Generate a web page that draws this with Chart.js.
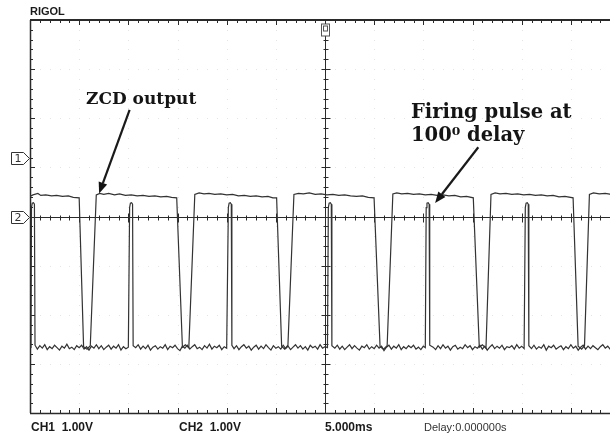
<!DOCTYPE html>
<html>
<head>
<meta charset="utf-8">
<script src="https://cdn.jsdelivr.net/npm/chart.js@4"></script>
<style>
  html, body { margin: 0; padding: 0; background: #fff; overflow: hidden; }
  #wrap { width: 640px; height: 438px; }
</style>
</head>
<body>
<div id="wrap"><canvas id="scope" width="640" height="438"></canvas></div>
<script>
// time in ms (5 ms/div, trigger at centre), level in screen volts (1 V/div)
const timeRange = [-30, 30]
const voltRange = [-4, 4]

// CH1 - zero crossing detector output
const ch1Trace = [
  [-30.0, 0.41], [-29.7, 0.44], [-29.2, 0.47], [-28.9, 0.43], [-28.4, 0.44], [-27.8, 0.42], [-27.3, 0.43],
  [-26.7, 0.41], [-26.1, 0.42], [-25.6, 0.39], [-25.0, 0.38],
  [-24.55, -2.65], [-24.2, -2.70], [-23.87, -2.63],
  [-23.26, 0.44], [-22.9, 0.47], [-22.5, 0.45], [-22.0, 0.47], [-21.4, 0.44], [-20.9, 0.46], [-20.3, 0.43],
  [-19.7, 0.44], [-19.1, 0.42], [-18.5, 0.43], [-17.9, 0.41], [-17.3, 0.42], [-16.7, 0.40], [-16.1, 0.41],
  [-15.6, 0.39], [-15.08, 0.38],
  [-14.5, -2.66], [-14.2, -2.61], [-13.85, -2.67],
  [-13.24, 0.45], [-12.8, 0.48], [-12.3, 0.46], [-11.8, 0.47], [-11.2, 0.45], [-10.6, 0.46], [-10.0, 0.44],
  [-9.4, 0.45], [-8.8, 0.42], [-8.2, 0.43], [-7.6, 0.41], [-7.0, 0.42], [-6.4, 0.40], [-5.8, 0.41],
  [-5.3, 0.38], [-4.92, 0.38],
  [-4.41, -2.64], [-4.1, -2.70], [-3.77, -2.62],
  [-3.16, 0.45], [-2.7, 0.47], [-2.2, 0.46], [-1.6, 0.48], [-1.0, 0.45], [-0.4, 0.46], [0.2, 0.44],
  [0.8, 0.45], [1.4, 0.43], [2.0, 0.44], [2.6, 0.42], [3.2, 0.41], [3.8, 0.42], [4.4, 0.39], [4.99, 0.38],
  [5.6, -2.65], [5.95, -2.70], [6.32, -2.63],
  [6.9, 0.46], [7.3, 0.48], [7.8, 0.46], [8.4, 0.47], [9.0, 0.45], [9.6, 0.46], [10.2, 0.44],
  [10.8, 0.45], [11.4, 0.43], [12.0, 0.44], [12.6, 0.42], [13.2, 0.43], [13.8, 0.40], [14.4, 0.41], [15.08, 0.38],
  [15.69, -2.66], [16.0, -2.61], [16.37, -2.68],
  [16.88, 0.45], [17.3, 0.48], [17.8, 0.46], [18.4, 0.47], [19.0, 0.45], [19.6, 0.46], [20.2, 0.44],
  [20.8, 0.45], [21.4, 0.43], [22.0, 0.44], [22.6, 0.42], [23.2, 0.43], [23.8, 0.40], [24.4, 0.41], [25.23, 0.38],
  [25.74, -2.64], [26.1, -2.70], [26.39, -2.63],
  [26.89, 0.45], [27.3, 0.48], [27.9, 0.46], [28.5, 0.47], [29.1, 0.45], [29.6, 0.46], [30.0, 0.44],
]

// CH2 - firing pulses at 100 deg delay
const ch2Trace = [
  [-30.0, -2.65], [-29.9, -2.66],
  [-29.85, 0.18], [-29.77, 0.27], [-29.65, 0.28], [-29.55, 0.25], [-29.49, -2.62],
  [-29.25, -2.70], [-29.0, -2.63], [-28.75, -2.68], [-28.5, -2.61], [-28.25, -2.71], [-28.0, -2.65], [-27.75, -2.69],
  [-27.5, -2.62], [-27.25, -2.67], [-27.0, -2.72], [-26.75, -2.64], [-26.5, -2.68], [-26.25, -2.60], [-26.0, -2.69],
  [-25.75, -2.66], [-25.5, -2.71], [-25.25, -2.63], [-25.0, -2.67], [-24.75, -2.62], [-24.5, -2.70], [-24.25, -2.65],
  [-24.0, -2.72], [-23.75, -2.64], [-23.5, -2.68], [-23.25, -2.61], [-23.0, -2.69], [-22.75, -2.63], [-22.5, -2.71],
  [-22.25, -2.66], [-22.0, -2.62], [-21.75, -2.70], [-21.5, -2.64], [-21.25, -2.68], [-21.0, -2.61], [-20.75, -2.72],
  [-20.5, -2.65], [-20.25, -2.69], [-20.0, -2.66],
  [-19.87, 0.18], [-19.79, 0.27], [-19.67, 0.28], [-19.57, 0.25], [-19.51, -2.63],
  [-19.25, -2.67], [-19.0, -2.61], [-18.75, -2.70], [-18.5, -2.64], [-18.25, -2.69], [-18.0, -2.62], [-17.75, -2.72],
  [-17.5, -2.66], [-17.25, -2.63], [-17.0, -2.70], [-16.75, -2.65], [-16.5, -2.68], [-16.25, -2.61], [-16.0, -2.71],
  [-15.75, -2.64], [-15.5, -2.67], [-15.25, -2.62], [-15.0, -2.69], [-14.75, -2.73], [-14.5, -2.64], [-14.25, -2.68],
  [-14.0, -2.62], [-13.75, -2.70], [-13.5, -2.65], [-13.25, -2.61], [-13.0, -2.69], [-12.75, -2.66], [-12.5, -2.71],
  [-12.25, -2.63], [-12.0, -2.68], [-11.75, -2.60], [-11.5, -2.70], [-11.25, -2.64], [-11.0, -2.67], [-10.75, -2.62],
  [-10.5, -2.71], [-10.25, -2.65], [-10.0, -2.68],
  [-9.83, 0.18], [-9.75, 0.27], [-9.63, 0.28], [-9.53, 0.25], [-9.47, -2.62],
  [-9.25, -2.69], [-9.0, -2.63], [-8.75, -2.71], [-8.5, -2.65], [-8.25, -2.61], [-8.0, -2.68], [-7.75, -2.64],
  [-7.5, -2.72], [-7.25, -2.66], [-7.0, -2.62], [-6.75, -2.70], [-6.5, -2.64], [-6.25, -2.69], [-6.0, -2.61],
  [-5.75, -2.67], [-5.5, -2.72], [-5.25, -2.63], [-5.0, -2.68], [-4.75, -2.65], [-4.5, -2.70], [-4.25, -2.62],
  [-4.0, -2.69], [-3.75, -2.64], [-3.5, -2.71], [-3.25, -2.66], [-3.0, -2.61], [-2.75, -2.68], [-2.5, -2.63],
  [-2.25, -2.70], [-2.0, -2.65], [-1.75, -2.72], [-1.5, -2.62], [-1.25, -2.67], [-1.0, -2.64], [-0.75, -2.70],
  [-0.5, -2.61], [-0.25, -2.68], [0.0, -2.65], [0.25, -2.67],
  [0.34, 0.18], [0.42, 0.27], [0.54, 0.28], [0.64, 0.25], [0.70, -2.63],
  [1.0, -2.68], [1.25, -2.62], [1.5, -2.70], [1.75, -2.64], [2.0, -2.71], [2.25, -2.66], [2.5, -2.61],
  [2.75, -2.69], [3.0, -2.63], [3.25, -2.68], [3.5, -2.72], [3.75, -2.64], [4.0, -2.67], [4.25, -2.61],
  [4.5, -2.70], [4.75, -2.65], [5.0, -2.69], [5.25, -2.62], [5.5, -2.68], [5.75, -2.64], [6.0, -2.73],
  [6.25, -2.66], [6.5, -2.62], [6.75, -2.70], [7.0, -2.64], [7.25, -2.68], [7.5, -2.61], [7.75, -2.71],
  [8.0, -2.65], [8.25, -2.69], [8.5, -2.63], [8.75, -2.67], [9.0, -2.62], [9.25, -2.70], [9.5, -2.66],
  [9.75, -2.71], [10.0, -2.64], [10.2, -2.67],
  [10.29, 0.18], [10.37, 0.27], [10.49, 0.28], [10.59, 0.25], [10.65, -2.62],
  [11.0, -2.66], [11.25, -2.71], [11.5, -2.63], [11.75, -2.69], [12.0, -2.61], [12.25, -2.68], [12.5, -2.64],
  [12.75, -2.72], [13.0, -2.65], [13.25, -2.62], [13.5, -2.70], [13.75, -2.66], [14.0, -2.69], [14.25, -2.61],
  [14.5, -2.67], [14.75, -2.63], [15.0, -2.71], [15.25, -2.65], [15.5, -2.68], [15.75, -2.62], [16.0, -2.70],
  [16.25, -2.64], [16.5, -2.72], [16.75, -2.66], [17.0, -2.61], [17.25, -2.69], [17.5, -2.64], [17.75, -2.68],
  [18.0, -2.62], [18.25, -2.71], [18.5, -2.65], [18.75, -2.67], [19.0, -2.63], [19.25, -2.70], [19.5, -2.61],
  [19.75, -2.68], [20.0, -2.64], [20.25, -2.69],
  [20.37, 0.18], [20.45, 0.27], [20.57, 0.28], [20.67, 0.25], [20.73, -2.63],
  [21.0, -2.69], [21.25, -2.62], [21.5, -2.70], [21.75, -2.65], [22.0, -2.68], [22.25, -2.61], [22.5, -2.72],
  [22.75, -2.64], [23.0, -2.67], [23.25, -2.62], [23.5, -2.70], [23.75, -2.66], [24.0, -2.63], [24.25, -2.71],
  [24.5, -2.65], [24.75, -2.69], [25.0, -2.61], [25.25, -2.68], [25.5, -2.64], [25.75, -2.72], [26.0, -2.66],
  [26.25, -2.62], [26.5, -2.70], [26.75, -2.64], [27.0, -2.69], [27.25, -2.63], [27.5, -2.67], [27.75, -2.71],
  [28.0, -2.65], [28.25, -2.61], [28.5, -2.68], [28.75, -2.64], [29.0, -2.70], [29.25, -2.62], [29.5, -2.69],
  [29.75, -2.65], [30.0, -2.67],
]

// channel ground markers on the left edge
const channelNames = ["1", "2"]
const channelOffsets = [1.19, 0]

// status line under the screen
const statusLabels = ["CH1  1.00V", "CH2  1.00V", "5.000ms", "Delay:0.000000s"]

const toPoints = (trace) => trace.map(([t, v]) => ({ x: t, y: v }))

// draws the scope frame, centre cross and tick marks
const scopeFrame = {
  id: "scopeFrame",
  beforeDatasetsDraw(chart) {
    const { ctx, chartArea: a, scales: { x, y } } = chart
    const xc = Math.round(x.getPixelForValue(0)) + 0.5
    const yc = Math.round(y.getPixelForValue(0)) + 0.5
    ctx.save()

    // faint dotted grid
    ctx.fillStyle = "#e4e4e4"
    for (let d = -5; d <= 5; d++) {
      if (d === 0) continue
      const px = Math.round(x.getPixelForValue(d * 5))
      for (let v = -4; v <= 4; v += 0.2) ctx.fillRect(px, Math.round(y.getPixelForValue(v)), 1, 1)
    }
    for (let d = -3; d <= 3; d++) {
      if (d === 0) continue
      const py = Math.round(y.getPixelForValue(d))
      for (let t = -30; t <= 30; t += 1) ctx.fillRect(Math.round(x.getPixelForValue(t)), py, 1, 1)
    }

    ctx.strokeStyle = "#2a2a2a"
    ctx.lineWidth = 1
    ctx.beginPath()
    // centre cross
    ctx.moveTo(xc, a.top); ctx.lineTo(xc, a.bottom)
    ctx.moveTo(a.left, yc); ctx.lineTo(a.right, yc)
    // ticks along x: every 1 ms (1/5 div)
    for (let i = 0; i <= 60; i++) {
      const px = Math.round(x.getPixelForValue(timeRange[0] + i)) + 0.5
      const len = i % 5 === 0 ? 5 : 3
      ctx.moveTo(px, a.top); ctx.lineTo(px, a.top + len)
      ctx.moveTo(px, a.bottom); ctx.lineTo(px, a.bottom - len)
      ctx.moveTo(px, yc - len + 1); ctx.lineTo(px, yc + len)
    }
    // ticks along y: every 0.2 V
    for (let j = 0; j <= 40; j++) {
      const py = Math.round(y.getPixelForValue(voltRange[0] + j * 0.2)) + 0.5
      const len = j % 5 === 0 ? 5 : 3
      ctx.moveTo(a.left, py); ctx.lineTo(a.left + len, py)
      ctx.moveTo(xc - len + 1, py); ctx.lineTo(xc + len, py)
    }
    ctx.stroke()

    // border
    ctx.lineWidth = 1.5
    ctx.beginPath()
    ctx.moveTo(a.left + 0.5, a.bottom); ctx.lineTo(a.left + 0.5, a.top)
    ctx.moveTo(a.left, a.bottom + 0.5); ctx.lineTo(a.right, a.bottom + 0.5)
    ctx.stroke()
    ctx.lineWidth = 2
    ctx.beginPath()
    ctx.moveTo(a.left, a.top); ctx.lineTo(a.right, a.top)
    ctx.stroke()

    // trigger position marker
    ctx.lineWidth = 1
    ctx.strokeStyle = "#555"
    ctx.fillStyle = "#fff"
    ctx.fillRect(xc - 4, a.top + 4, 8, 12)
    ctx.strokeRect(xc - 4, a.top + 4, 8, 12)
    ctx.strokeRect(xc - 2, a.top + 6, 4, 5)

    // channel ground markers
    ctx.font = "11px 'DejaVu Sans'"
    ctx.textAlign = "center"
    ctx.textBaseline = "middle"
    channelNames.forEach((name, i) => {
      const py = Math.round(y.getPixelForValue(channelOffsets[i])) + 0.5
      ctx.strokeStyle = "#333"
      ctx.beginPath()
      ctx.moveTo(11.5, py - 6); ctx.lineTo(23.5, py - 6); ctx.lineTo(29.5, py)
      ctx.lineTo(23.5, py + 6); ctx.lineTo(11.5, py + 6); ctx.closePath()
      ctx.stroke()
      ctx.fillStyle = "#333"
      ctx.fillText(name, 18, py + 0.5)
    })
    ctx.restore()
  },
}

function drawArrow(ctx, x1, y1, x2, y2, width) {
  const ang = Math.atan2(y2 - y1, x2 - x1)
  const head = 11
  const half = 4.5
  const bx = x2 - head * Math.cos(ang)
  const by = y2 - head * Math.sin(ang)
  ctx.lineWidth = width
  ctx.beginPath()
  ctx.moveTo(x1, y1); ctx.lineTo(bx, by)
  ctx.stroke()
  ctx.beginPath()
  ctx.moveTo(x2, y2)
  ctx.lineTo(bx + half * Math.sin(ang), by - half * Math.cos(ang))
  ctx.lineTo(bx - half * Math.sin(ang), by + half * Math.cos(ang))
  ctx.closePath()
  ctx.fill()
}

// annotations, status line and brand
const scopeText = {
  id: "scopeText",
  afterDraw(chart) {
    const { ctx, scales: { x, y } } = chart
    ctx.save()
    ctx.fillStyle = "#1a1a1a"
    ctx.strokeStyle = "#1a1a1a"
    ctx.textBaseline = "alphabetic"
    ctx.textAlign = "left"

    ctx.font = "bold 11px 'Liberation Sans'"
    ctx.fillText("RIGOL", 30, 15)

    ctx.font = "bold 12px 'Liberation Sans'"
    ctx.fillText(statusLabels[0], 31, 431)
    ctx.fillText(statusLabels[1], 179, 431)
    ctx.fillText(statusLabels[2], 325, 431)
    ctx.font = "11px 'Liberation Sans'"
    ctx.fillStyle = "#333"
    ctx.fillText(statusLabels[3], 424, 431)

    ctx.fillStyle = "#141414"
    ctx.font = "bold 17px 'DejaVu Serif'"
    ctx.fillText("ZCD output", 86, 104)
    ctx.font = "bold 19.5px 'DejaVu Serif'"
    ctx.fillText("Firing pulse at", 411, 118)
    ctx.fillText("100\u2070 delay", 411, 141)

    drawArrow(ctx, x.getPixelForValue(-19.87), y.getPixelForValue(2.17),
      x.getPixelForValue(-22.97), y.getPixelForValue(0.47), 2.2)
    drawArrow(ctx, x.getPixelForValue(15.59), y.getPixelForValue(1.41),
      x.getPixelForValue(11.2), y.getPixelForValue(0.275), 2.2)
    ctx.restore()
  },
}

new Chart(document.getElementById("scope"), {
  type: "scatter",
  data: {
    datasets: [
      { label: "CH1", data: toPoints(ch1Trace), showLine: true, borderColor: "#333", borderWidth: 1.2, pointRadius: 0, tension: 0 },
      { label: "CH2", data: toPoints(ch2Trace), showLine: true, borderColor: "#333", borderWidth: 1.2, pointRadius: 0, tension: 0 },
    ],
  },
  options: {
    responsive: false,
    animation: false,
    layout: { padding: { left: 30, right: 20, top: 20, bottom: 25 } },
    plugins: { legend: { display: false }, tooltip: { enabled: false } },
    scales: {
      x: { type: "linear", display: false, min: timeRange[0], max: timeRange[1] },
      y: { type: "linear", display: false, min: voltRange[0], max: voltRange[1] },
    },
  },
  plugins: [scopeFrame, scopeText],
})
</script>
</body>
</html>
